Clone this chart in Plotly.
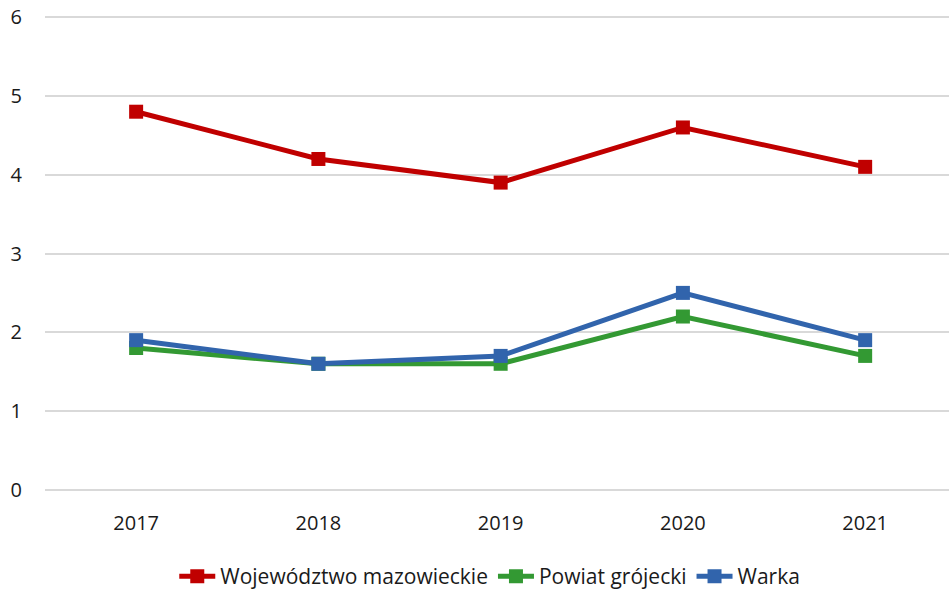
import plotly.graph_objects as go

years = ["2017", "2018", "2019", "2020", "2021"]
woj_maz = [4.8, 4.2, 3.9, 4.6, 4.1]
powiat_grojecki = [1.8, 1.6, 1.6, 2.2, 1.7]
warka = [1.9, 1.6, 1.7, 2.5, 1.9]

series = [
    ("Województwo mazowieckie", woj_maz, "#C00000"),
    ("Powiat grójecki", powiat_grojecki, "#339933"),
    ("Warka", warka, "#3164AC"),
]

fig = go.Figure()
for name, vals, col in series:
    fig.add_trace(go.Scatter(
        x=years, y=vals, name=name, mode="lines+markers",
        line=dict(color=col, width=5),
        marker=dict(symbol="square", size=14, color=col),
    ))

font = "Open Sans, Noto Sans, sans-serif"
fig.update_layout(
    width=949, height=590,
    margin=dict(l=45, r=0, t=16, b=99, autoexpand=False),
    paper_bgcolor="white", plot_bgcolor="white",
    font=dict(family=font, size=20, color="#1a1a1a"),
    showlegend=True,
    legend=dict(orientation="h", x=0.492, xanchor="center", y=-0.18, yanchor="middle",
                font=dict(size=21), itemwidth=36, traceorder="normal"),
    xaxis=dict(type="category", range=[-0.5, 4.46], showgrid=False, zeroline=False,
               showline=False, ticks="", ticklabelstandoff=18, automargin=False),
    yaxis=dict(range=[-0.015, 6.015], tickvals=[0, 1, 2, 3, 4, 5, 6], showgrid=True,
               gridcolor="#D9D9D9", gridwidth=1.5, zeroline=False, showline=False,
               ticks="", ticklabelstandoff=22, automargin=False,
               ticklabeloverflow="allow"),
)
fig.write_html("out.html", config={"displayModeBar": False},
               post_script="document.body.style.margin='0';")
